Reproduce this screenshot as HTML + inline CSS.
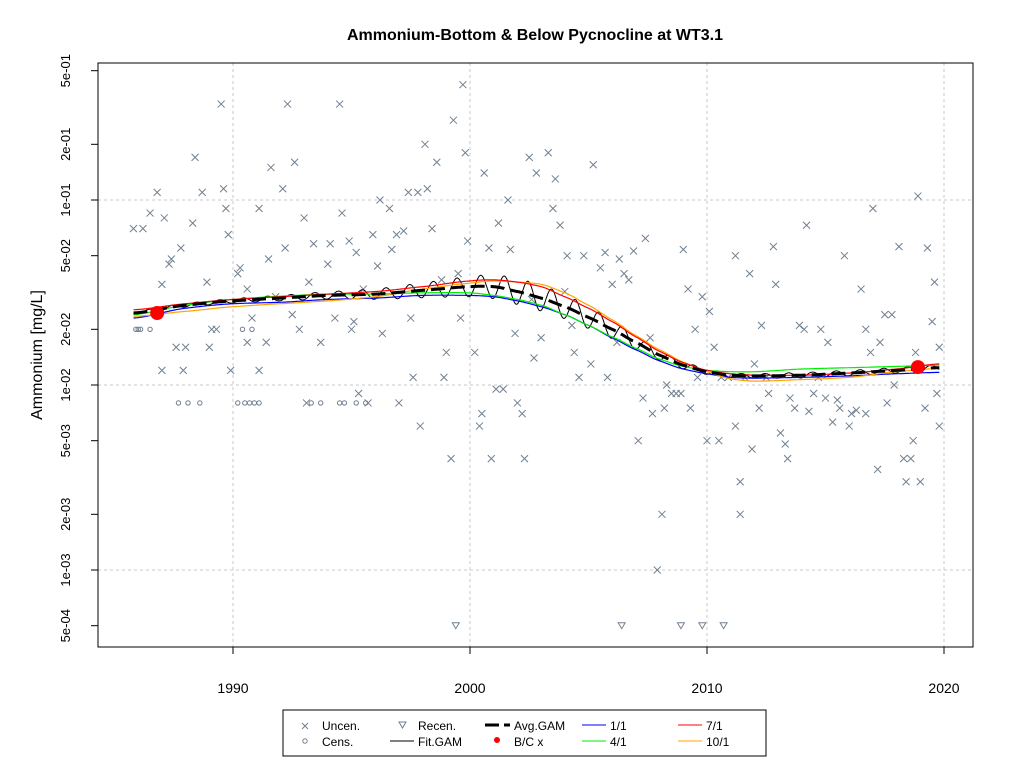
<!DOCTYPE html>
<html><head><meta charset="utf-8"><style>
html,body{margin:0;padding:0;background:#fff;}
svg{display:block;font-family:"Liberation Sans",Arial,sans-serif;}
</style></head><body>
<svg id="chart" width="1024" height="768" viewBox="0 0 1024 768" xmlns="http://www.w3.org/2000/svg">
<rect x="0" y="0" width="1024" height="768" fill="#fff"/>
<text x="535" y="40" text-anchor="middle" font-size="16" font-weight="bold">Ammonium-Bottom &amp; Below Pycnocline at WT3.1</text>
<g id="grid"></g>
<g id="pts"></g>
<g id="lines"></g>
<g id="axes"></g>
<rect x="98" y="63" width="875" height="584" fill="none" stroke="#000" stroke-width="1"/>
<text transform="translate(42,355) rotate(-90)" text-anchor="middle" font-size="16">Ammonium [mg/L]</text>
<g>
<rect x="283" y="710" width="483" height="46" fill="#fff" stroke="#000"/>
<g><path d="M302,723 l6,6 M308,723 l-6,6" stroke="#708090" stroke-width="1"/><text x="322" y="730" font-size="12">Uncen.</text></g>
<g><circle cx="305" cy="741" r="2.2" fill="none" stroke="#708090"/><text x="322" y="746" font-size="12">Cens.</text></g>
<g><path d="M399,722 l7,0 l-3.5,6 z" fill="none" stroke="#708090"/><text x="418" y="730" font-size="12">Recen.</text></g>
<g><line x1="390" y1="741" x2="414" y2="741" stroke="#000"/><text x="418" y="746" font-size="12">Fit.GAM</text></g>
<g><line x1="485" y1="725" x2="510" y2="725" stroke="#000" stroke-width="3" stroke-dasharray="14,5"/><text x="514" y="730" font-size="12">Avg.GAM</text></g>
<g><circle cx="497" cy="740" r="3" fill="#f00"/><text x="514" y="746" font-size="12">B/C x</text></g>
<g><line x1="582" y1="725" x2="606" y2="725" stroke="#00f"/><text x="610" y="730" font-size="12">1/1</text></g>
<g><line x1="582" y1="741" x2="606" y2="741" stroke="#0e0"/><text x="610" y="746" font-size="12">4/1</text></g>
<g><line x1="678" y1="725" x2="702" y2="725" stroke="#f00"/><text x="706" y="730" font-size="12">7/1</text></g>
<g><line x1="678" y1="741" x2="702" y2="741" stroke="#ffa500"/><text x="706" y="746" font-size="12">10/1</text></g>
</g>
</svg>
<script>
const xTicks=[1990,2000,2010,2020];
const yTicks=[0.5,0.2,0.1,0.05,0.02,0.01,0.005,0.002,0.001,0.0005];
const yTickLabels=["5e-01","2e-01","1e-01","5e-02","2e-02","1e-02","5e-03","2e-03","1e-03","5e-04"];
const yGrid=[0.1,0.01,0.001];
const uncenYears=[1985.8,1986.2,1986.5,1986.8,1987,1987,1987.1,1987.3,1987.4,1987.6,1987.8,1987.9,1988,1988.3,1988.4,1988.7,1988.9,1989,1989.1,1989.3,1989.5,1989.6,1989.7,1989.8,1989.9,1990.2,1990.3,1990.6,1990.6,1990.8,1991.1,1991.1,1991.4,1991.5,1991.6,1991.8,1992.1,1992.2,1992.3,1992.5,1992.6,1992.8,1993,1993.1,1993.2,1993.4,1993.7,1994,1994.1,1994.3,1994.5,1994.6,1994.9,1995,1995.1,1995.2,1995.3,1995.5,1995.7,1995.9,1996.1,1996.2,1996.3,1996.6,1996.7,1996.9,1997,1997.2,1997.4,1997.5,1997.6,1997.8,1997.9,1998.1,1998.2,1998.4,1998.6,1998.8,1998.9,1999,1999.2,1999.3,1999.5,1999.6,1999.7,1999.8,1999.9,2000.2,2000.4,2000.5,2000.6,2000.8,2000.9,2001.1,2001.2,2001.4,2001.6,2001.7,2001.9,2002,2002.2,2002.3,2002.5,2002.6,2002.7,2002.8,2003,2003.3,2003.5,2003.6,2003.8,2004,2004.1,2004.3,2004.4,2004.6,2004.8,2005.1,2005.2,2005.5,2005.7,2005.8,2006,2006.2,2006.3,2006.5,2006.7,2006.9,2007.1,2007.3,2007.4,2007.6,2007.7,2007.9,2008.1,2008.2,2008.3,2008.5,2008.7,2008.9,2009,2009.2,2009.3,2009.5,2009.6,2009.8,2010,2010.1,2010.3,2010.5,2010.6,2010.9,2011.2,2011.2,2011.4,2011.4,2011.6,2011.8,2011.9,2012,2012.2,2012.3,2012.5,2012.6,2012.8,2012.9,2013.1,2013.3,2013.4,2013.5,2013.7,2013.9,2014.1,2014.2,2014.3,2014.5,2014.7,2014.8,2015,2015.1,2015.3,2015.5,2015.6,2015.8,2016,2016.1,2016.3,2016.5,2016.7,2016.7,2016.9,2017,2017.2,2017.3,2017.5,2017.6,2017.8,2017.9,2018.1,2018.3,2018.4,2018.6,2018.7,2018.8,2018.9,2019,2019.2,2019.3,2019.5,2019.6,2019.7,2019.8,2019.8];
const uncenValues=[0.07,0.07,0.085,0.11,0.035,0.012,0.08,0.045,0.048,0.016,0.055,0.012,0.016,0.075,0.17,0.11,0.036,0.016,0.02,0.02,0.33,0.115,0.09,0.065,0.012,0.04,0.043,0.033,0.017,0.023,0.012,0.09,0.017,0.048,0.15,0.03,0.115,0.055,0.33,0.024,0.16,0.02,0.08,0.008,0.036,0.058,0.017,0.045,0.058,0.023,0.33,0.085,0.06,0.02,0.022,0.052,0.009,0.033,0.008,0.065,0.044,0.1,0.019,0.09,0.054,0.065,0.008,0.068,0.11,0.023,0.011,0.11,0.006,0.2,0.115,0.07,0.16,0.037,0.011,0.015,0.004,0.27,0.04,0.023,0.42,0.18,0.06,0.015,0.006,0.007,0.14,0.055,0.004,0.0095,0.075,0.0095,0.1,0.054,0.019,0.008,0.007,0.004,0.17,0.029,0.014,0.14,0.018,0.18,0.09,0.13,0.073,0.032,0.05,0.021,0.015,0.011,0.05,0.013,0.155,0.043,0.052,0.011,0.035,0.017,0.048,0.04,0.037,0.053,0.005,0.0085,0.062,0.018,0.007,0.001,0.002,0.0075,0.01,0.009,0.009,0.009,0.054,0.033,0.0075,0.02,0.011,0.03,0.005,0.025,0.016,0.005,0.011,0.011,0.006,0.05,0.002,0.003,0.011,0.04,0.0045,0.013,0.0075,0.021,0.011,0.009,0.056,0.035,0.0055,0.0048,0.004,0.0085,0.0075,0.021,0.02,0.073,0.0072,0.009,0.011,0.02,0.0085,0.017,0.0063,0.0083,0.0075,0.05,0.006,0.007,0.0073,0.033,0.02,0.007,0.015,0.09,0.0035,0.017,0.024,0.008,0.024,0.01,0.056,0.004,0.003,0.004,0.005,0.015,0.105,0.003,0.0075,0.055,0.022,0.036,0.009,0.006,0.016];
const censYears=[1985.9,1986.0,1986.1,1986.5,1987.7,1988.1,1988.6,1990.2,1990.5,1990.7,1990.9,1991.1,1990.4,1990.8,1993.3,1993.7,1994.5,1994.7,1995.2,1995.6];
const censValues=[0.02,0.02,0.02,0.02,0.008,0.008,0.008,0.008,0.008,0.008,0.008,0.008,0.02,0.02,0.008,0.008,0.008,0.008,0.008,0.008];
const recenYears=[1999.4,2006.4,2008.9,2009.8,2010.7];
const recenValues=[0.0005,0.0005,0.0005,0.0005,0.0005];
const knotYears=[1985.8,1988,1990,1992,1994,1996,1998,2000,2001,2002,2003,2004,2005,2006,2007,2008,2009,2010,2011,2012,2014,2016,2018,2019.8];
const avgGam=[.0245,.027,.0285,.0295,.0305,.031,.0325,.034,.034,.032,.0295,.0265,.0232,.0200,.0170,.0145,.0128,.0118,.0113,.0112,.0113,.0116,.012,.0124];
const fitAmp=[.01,.01,.012,.015,.02,.028,.04,.055,.065,.07,.07,.065,.06,.05,.04,.028,.02,.015,.012,.012,.015,.015,.015,.015];
const s11=[.023,.026,.0275,.028,.029,.0295,.0305,.0305,.030,.0285,.0265,.024,.021,.018,.0155,.0135,.0122,.0115,.011,.0109,.011,.0112,.0115,.0117];
const s41=[.024,.027,.029,.0302,.031,.031,.0315,.0315,.0305,.029,.027,.024,.021,.0182,.0158,.0138,.0126,.012,.0118,.0118,.0122,.0124,.0126,.0128];
const s71=[.0255,.0275,.029,.030,.031,.032,.034,.0365,.037,.036,.034,.030,.026,.022,.0182,.0152,.0132,.012,.0115,.0113,.0113,.0116,.0122,.013];
const s101=[.0235,.025,.0265,.0275,.0285,.030,.033,.0355,.0365,.036,.035,.0315,.027,.0225,.0185,.0155,.0133,.0118,.0108,.0105,.0107,.011,.0118,.0123];
const bcYears=[1986.8,2018.9];
const bcValues=[0.0245,0.0125];

const NS="http://www.w3.org/2000/svg";
const X=y=>233+(y-1990)*23.7;
const Y=v=>200-(Math.log10(v)+1)*185;
function mk(tag,attrs,parent){const e=document.createElementNS(NS,tag);for(const k in attrs)e.setAttribute(k,attrs[k]);parent.appendChild(e);return e;}
const grid=document.getElementById('grid'),axes=document.getElementById('axes'),pts=document.getElementById('pts'),lines=document.getElementById('lines');
xTicks.forEach(t=>{
  const g=mk('line',{x1:X(t),x2:X(t),y1:63,y2:647,stroke:'#c8c8c8','stroke-dasharray':'3,3'},grid);
  
  
  const tk=mk('line',{x1:X(t),x2:X(t),y1:647,y2:654,stroke:'#000'},axes);
  
  
  const tx=mk('text',{x:X(t),y:693,'text-anchor':'middle','font-size':14},axes);
  tx.textContent=t;
  
  
});
yGrid.forEach(v=>{
  const g=mk('line',{x1:98,x2:973,y1:Y(v),y2:Y(v),stroke:'#c8c8c8','stroke-dasharray':'3,3'},grid);
  
  
});
yTicks.forEach((v,i)=>{
  const tk=mk('line',{x1:91,x2:98,y1:Y(v),y2:Y(v),stroke:'#000'},axes);
  
  
  const tx=mk('text',{transform:`translate(70,${Y(v)}) rotate(-90)`,'text-anchor':'middle','font-size':13},axes);
  tx.textContent=yTickLabels[i];
  
  
});
uncenYears.forEach((yr,i)=>{
  const x=X(yr),y=Y(uncenValues[i]);
  const p=mk('path',{d:`M${x-3.5},${y-3.5} l7,7 M${x+3.5},${y-3.5} l-7,7`,stroke:'#708090','stroke-width':1},pts);
  
  
});
censYears.forEach((yr,i)=>{
  const c=mk('circle',{cx:X(yr),cy:Y(censValues[i]),r:2.2,fill:'none',stroke:'#708090'},pts);
  
  
});
recenYears.forEach((yr,i)=>{
  const x=X(yr),y=Y(recenValues[i]);
  const p=mk('path',{d:`M${x-3.5},${y-3} l7,0 l-3.5,6 z`,fill:'none',stroke:'#708090'},pts);
  
  
});
function interp(arr,t){
  let i=0;while(i<knotYears.length-2&&t>knotYears[i+1])i++;
  const t0=knotYears[i],t1=knotYears[i+1];
  const L=k=>Math.log10(arr[Math.max(0,Math.min(arr.length-1,k))]);
  const u=(t-t0)/(t1-t0);
  const p0=L(i-1),p1=L(i),p2=L(i+1),p3=L(i+2);
  const m1=(p2-p0)/2*0.8,m2=(p3-p1)/2*0.8;
  const h00=2*u*u*u-3*u*u+1,h10=u*u*u-2*u*u+u,h01=-2*u*u*u+3*u*u,h11=u*u*u-u*u;
  return Math.pow(10,h00*p1+h10*m1+h01*p2+h11*m2);
}
function linAmp(t){let i=0;while(i<knotYears.length-2&&t>knotYears[i+1])i++;const u=(t-knotYears[i])/(knotYears[i+1]-knotYears[i]);return fitAmp[i]+(fitAmp[i+1]-fitAmp[i])*Math.max(0,Math.min(1,u));}
function curve(fn,attrs,name){
  let d='';const t0=knotYears[0],t1=knotYears[knotYears.length-1];
  for(let t=t0;t<=t1+1e-9;t+=0.02){d+=(d?'L':'M')+X(t).toFixed(1)+','+Y(fn(t)).toFixed(1);}
  const p=mk('path',Object.assign({d:d,fill:'none'},attrs),lines);
  
  
}
curve(t=>interp(avgGam,t)*Math.pow(10,linAmp(t)*Math.sin(2*Math.PI*(t-0.2))),{stroke:'#000','stroke-width':1},'fit-gam-line');
curve(t=>interp(s11,t),{stroke:'#00f','stroke-width':1.2},'series-1-1-line');
curve(t=>interp(s41,t),{stroke:'#0e0','stroke-width':1.2},'series-4-1-line');
curve(t=>interp(s101,t),{stroke:'#ffa500','stroke-width':1.2},'series-10-1-line');
curve(t=>interp(s71,t),{stroke:'#f00','stroke-width':1.2},'series-7-1-line');
curve(t=>interp(avgGam,t),{stroke:'#000','stroke-width':3,'stroke-dasharray':'14,6'},'avg-gam-line');
bcYears.forEach((yr,i)=>{
  const c=mk('circle',{cx:X(yr),cy:Y(bcValues[i]),r:7,fill:'#f00'},lines);
  
  
});
</script>
</body></html>
